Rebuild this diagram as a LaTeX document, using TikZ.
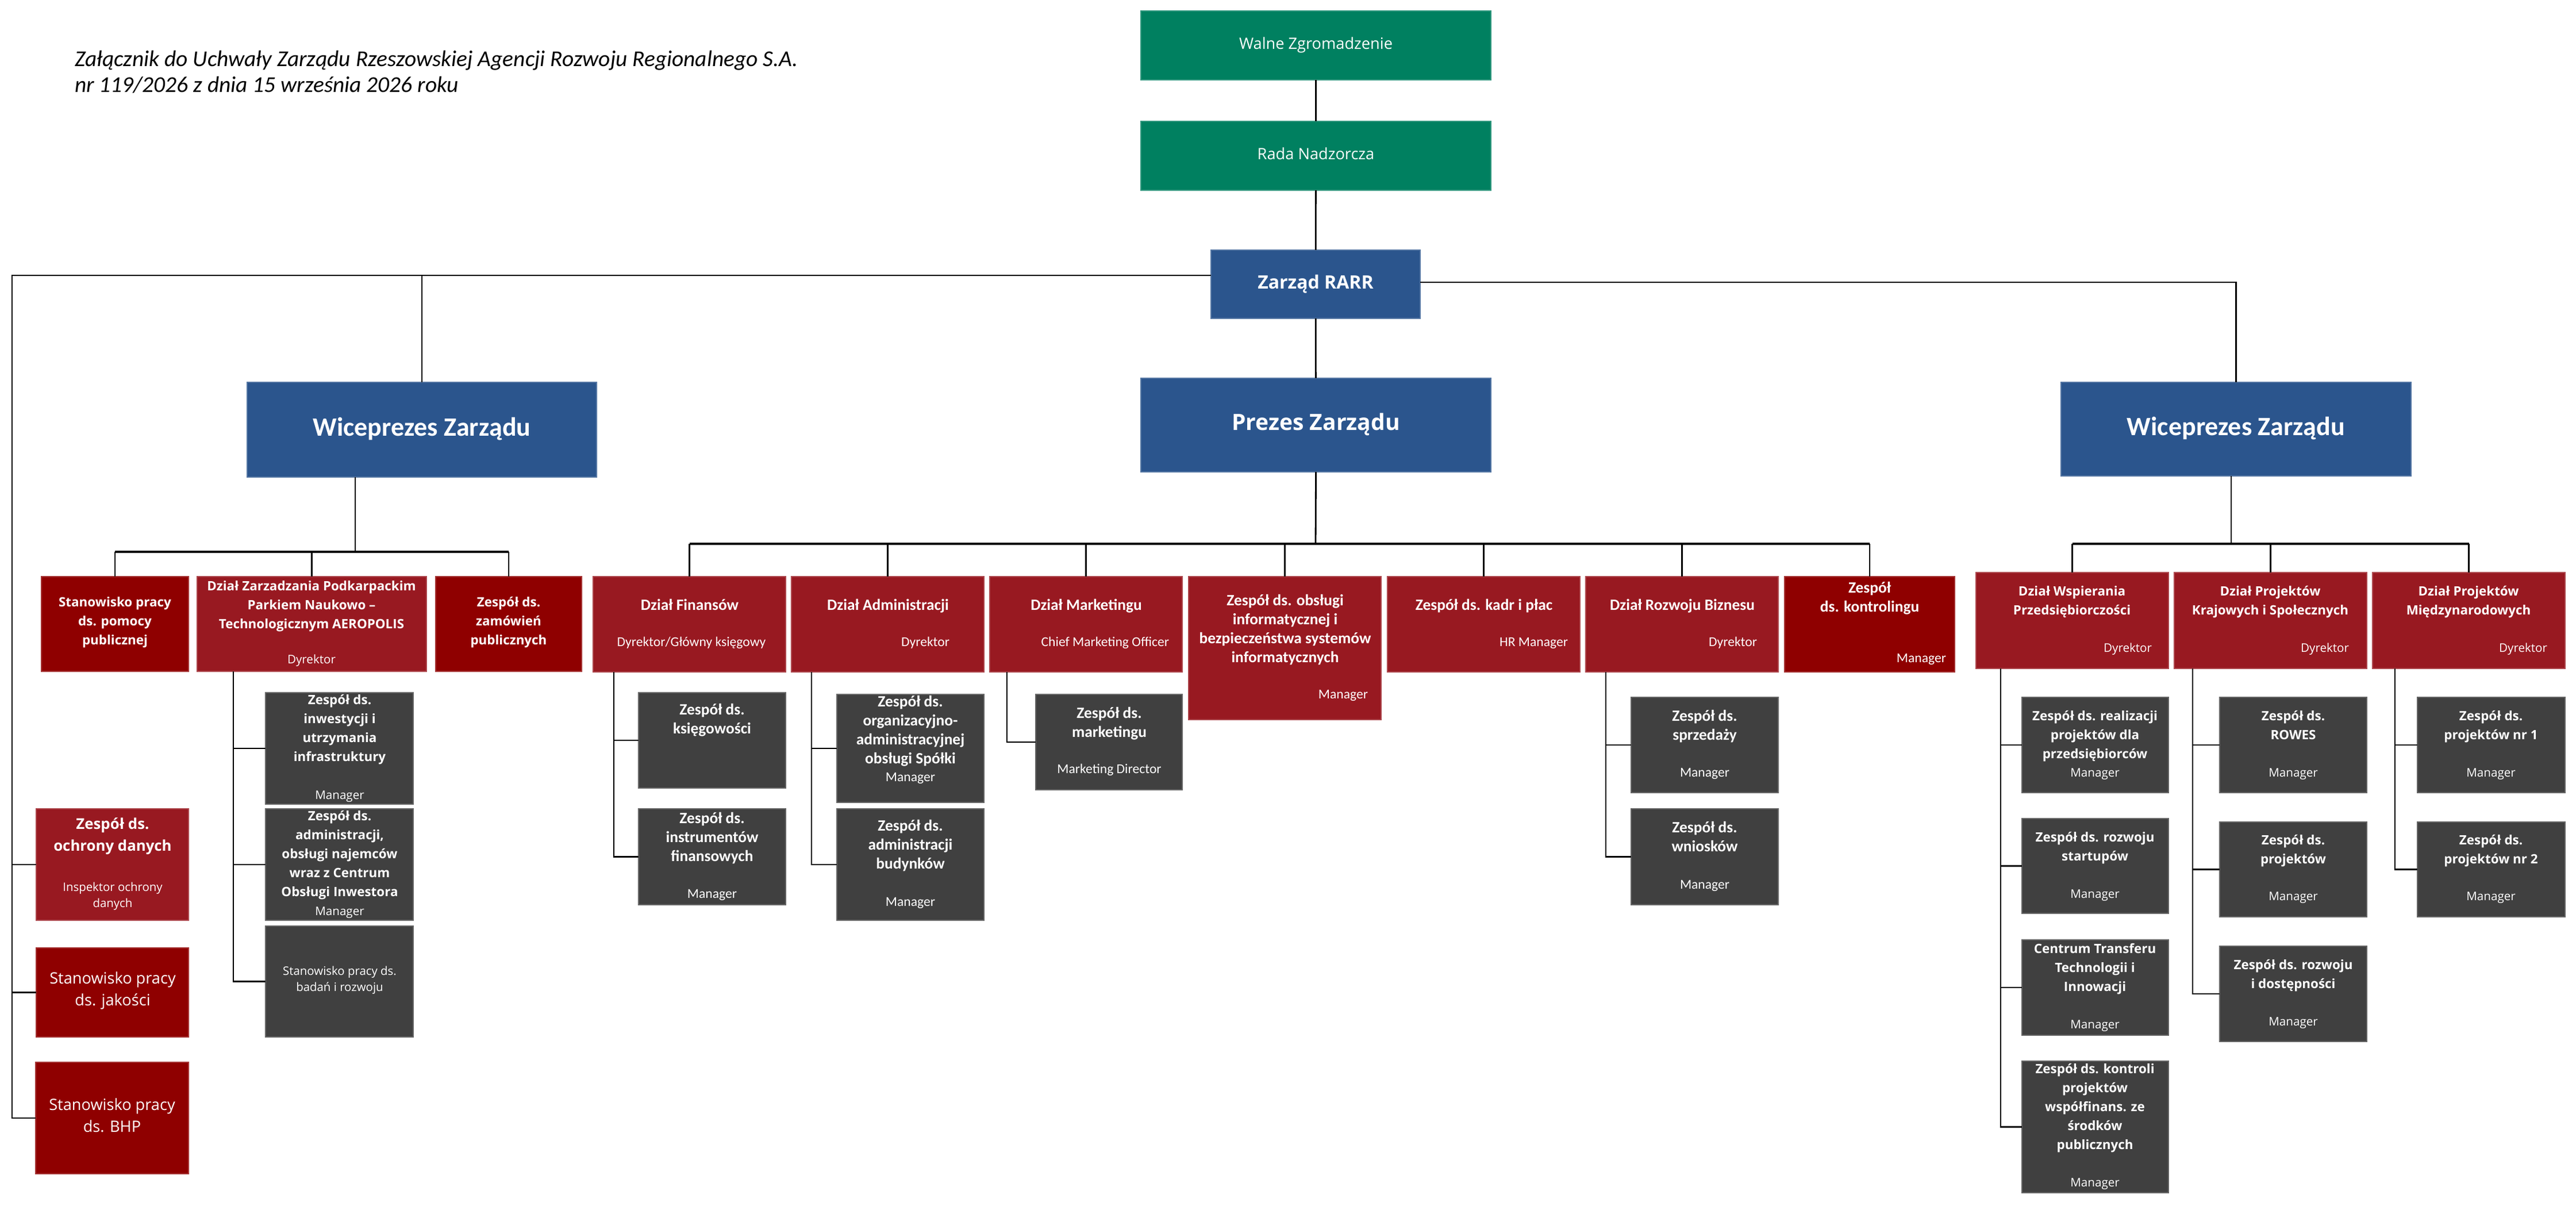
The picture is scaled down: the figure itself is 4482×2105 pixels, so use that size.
\documentclass[tikz,border=0pt]{standalone}
\usepackage{fontspec}
\newfontfamily\osans{Open Sans}
\newfontfamily\calib{Carlito}
\definecolor{cgreen}{RGB}{0,128,96}
\definecolor{cblue}{RGB}{43,85,141}
\definecolor{cred}{RGB}{152,25,33}
\definecolor{cdred}{RGB}{143,0,0}
\definecolor{cgrey}{RGB}{64,64,64}
\tikzset{
  orgbox/.style={inner sep=0pt, outer sep=0pt, line width=0.4pt},
  lbl/.style={inner sep=0pt, outer sep=0pt, text=white, align=center,
    execute at begin node=\strut, execute at end node=\strut},
  fTop/.style={lbl, font=\osans\fontsize{6.8}{8.2}\selectfont},
  fZar/.style={lbl, font=\osans\bfseries\fontsize{8}{9.6}\selectfont},
  fPre/.style={lbl, font=\osans\bfseries\fontsize{9.75}{11.7}\selectfont},
  fWice/.style={lbl, font=\calib\bfseries\fontsize{11.5}{14}\selectfont},
  fOB/.style={lbl, font=\osans\bfseries\fontsize{5.6}{8.25}\selectfont},
  fOR/.style={lbl, font=\osans\fontsize{5.15}{7}\selectfont},
  fOBig/.style={lbl, font=\osans\bfseries\fontsize{6.45}{9.5}\selectfont},
  fORBig/.style={lbl, font=\osans\fontsize{6.8}{9.5}\selectfont},
  fOSm/.style={lbl, font=\osans\fontsize{5.1}{7.2}\selectfont},
  fCB/.style={lbl, font=\calib\bfseries\fontsize{6.85}{8.25}\selectfont},
  fCR/.style={lbl, font=\calib\fontsize{5.9}{7}\selectfont},
  titletxt/.style={inner sep=0pt, outer sep=0pt, anchor=base west, text=black,
    font=\calib\itshape\fontsize{9.85}{11.5}\selectfont},
  orgconn/.style={line width=0.7pt, black},
  orgbar/.style={line width=1.1pt, black},
}
\newcommand\OBox[6]{\node[orgbox, fill=#6, draw=#6!80!white,
  minimum width={(#4-#2)*0.25pt}, minimum height={(#5-#3)*0.25pt}]
  (#1) at ({(#2+#4)/2},{(#3+#5)/2}) {};}
\begin{document}
\begin{tikzpicture}[x=0.25pt, y=-0.25pt]
\useasboundingbox (0,0) rectangle (4482,2105);
% title
\node[titletxt] (t1) at (130,116) {Załącznik do Uchwały Zarządu Rzeszowskiej Agencji Rozwoju Regionalnego S.A.};
\node[titletxt] (t2) at (130,161) {nr 119/2026 z dnia 15 września 2026 roku};
% boxes
\OBox{walne}{1985}{19}{2594}{139}{cgreen}
\OBox{rada}{1985}{211}{2594}{331}{cgreen}
\OBox{zarzad}{2107}{435}{2471}{554}{cblue}
\OBox{prezes}{1985}{658}{2594}{821}{cblue}
\OBox{wl}{430}{665}{1038}{830}{cblue}
\OBox{wr}{3586}{665}{4195}{828}{cblue}
\OBox{pomoc}{72}{1003}{328}{1168}{cdred}
\OBox{aero}{343}{1003}{742}{1168}{cred}
\OBox{zam}{758}{1003}{1012}{1168}{cdred}
\OBox{ac1}{462}{1205}{719}{1399}{cgrey}
\OBox{ac2}{462}{1407}{719}{1601}{cgrey}
\OBox{ac3}{462}{1611}{719}{1804}{cgrey}
\OBox{ochr}{63}{1407}{328}{1601}{cred}
\OBox{jak}{63}{1649}{328}{1804}{cdred}
\OBox{bhp}{62}{1848}{328}{2042}{cdred}
\OBox{fin}{1032}{1003}{1367}{1169}{cred}
\OBox{adm}{1377}{1003}{1712}{1169}{cred}
\OBox{mkt}{1722}{1003}{2057}{1169}{cred}
\OBox{itb}{2068}{1003}{2403}{1252}{cred}
\OBox{kadr}{2414}{1003}{2749}{1169}{cred}
\OBox{roz}{2759}{1003}{3094}{1169}{cred}
\OBox{kontr}{3105}{1003}{3401}{1169}{cdred}
\OBox{ksg}{1111}{1205}{1367}{1371}{cgrey}
\OBox{ins}{1111}{1407}{1367}{1574}{cgrey}
\OBox{org}{1456}{1208}{1712}{1396}{cgrey}
\OBox{bud}{1456}{1407}{1712}{1601}{cgrey}
\OBox{mar}{1802}{1208}{2057}{1374}{cgrey}
\OBox{spr}{2838}{1213}{3094}{1379}{cgrey}
\OBox{wni}{2838}{1407}{3094}{1574}{cgrey}
\OBox{wsp}{3438}{996}{3773}{1163}{cred}
\OBox{kraj}{3783}{996}{4118}{1163}{cred}
\OBox{mdz}{4128}{996}{4463}{1163}{cred}
\OBox{w1}{3518}{1213}{3773}{1379}{cgrey}
\OBox{w2}{3518}{1424}{3773}{1589}{cgrey}
\OBox{w3}{3518}{1635}{3773}{1801}{cgrey}
\OBox{w4}{3518}{1846}{3773}{2075}{cgrey}
\OBox{k1}{3862}{1213}{4118}{1379}{cgrey}
\OBox{k2}{3862}{1430}{4118}{1595}{cgrey}
\OBox{k3}{3862}{1646}{4118}{1812}{cgrey}
\OBox{m1}{4206}{1213}{4463}{1379}{cgrey}
\OBox{m2}{4206}{1430}{4463}{1595}{cgrey}
% connectors top
\draw[orgconn] (walne) -- (rada);
\draw[orgconn] (rada) -- (zarzad);
\draw[orgconn] (zarzad) -- (prezes);
\coordinate (zl) at (21,479);
\draw[orgconn] (zarzad.west |- zl) -- (zl) |- (bhp.west);
\draw[orgconn] (zl -| wl.north) -- (wl.north);
\draw[orgconn] (zl |- ochr.west) -- (ochr.west);
\draw[orgconn] (zl |- jak.west) -- (jak.west);
\coordinate (zr) at (3885,491);
\draw[orgconn] (zarzad.east |- zr) -- (zr -| wr.north) -- (wr.north);
% left vice
\coordinate (bl) at (618,960);
\draw[orgconn] (wl.south -| bl) -- (bl);
\draw[orgbar] (pomoc.north |- bl) -- (zam.north |- bl);
\foreach \n in {pomoc,aero,zam} \draw[orgconn] (\n.north |- bl) -- (\n.north);
% president
\coordinate (bp) at (2289,946);
\draw[orgconn] (prezes.south) -- (bp);
\draw[orgbar] (fin.north |- bp) -- (kontr.north |- bp);
\foreach \n in {fin,adm,mkt,itb,kadr,roz,kontr} \draw[orgconn] (\n.north |- bp) -- (\n.north);
% right vice
\coordinate (br) at (3882,946);
\draw[orgconn] (wr.south -| br) -- (br);
\draw[orgbar] (wsp.north |- br) -- (mdz.north |- br);
\foreach \n in {wsp,kraj,mdz} \draw[orgconn] (\n.north |- br) -- (\n.north);
% child connectors
\coordinate (av) at (406,1168);
\draw[orgconn] (aero.south -| av) |- (ac3.west);
\draw[orgconn] (av |- ac1.west) -- (ac1.west);
\draw[orgconn] (av |- ac2.west) -- (ac2.west);
\coordinate (fv) at (1068,1169);
\draw[orgconn] (fin.south -| fv) |- (ins.west);
\draw[orgconn] (fv |- ksg.west) -- (ksg.west);
\coordinate (dv) at (1412,1169);
\draw[orgconn] (adm.south -| dv) |- (bud.west);
\draw[orgconn] (dv |- org.west) -- (org.west);
\coordinate (mv) at (1752,1169);
\draw[orgconn] (mkt.south -| mv) |- (mar.west);
\coordinate (rv) at (2794,1169);
\draw[orgconn] (roz.south -| rv) |- (wni.west);
\draw[orgconn] (rv |- spr.west) -- (spr.west);
\coordinate (wv) at (3481,1163);
\draw[orgconn] (wsp.south -| wv) |- (w4.west);
\foreach \n in {w1,w2,w3} \draw[orgconn] (wv |- \n.west) -- (\n.west);
\coordinate (kv) at (3815,1163);
\draw[orgconn] (kraj.south -| kv) |- (k3.west);
\foreach \n in {k1,k2} \draw[orgconn] (kv |- \n.west) -- (\n.west);
\coordinate (nv) at (4167,1163);
\draw[orgconn] (mdz.south -| nv) |- (m2.west);
\draw[orgconn] (nv |- m1.west) -- (m1.west);
% texts top
\node[fTop] (walne-t) at (walne) {Walne Zgromadzenie};
\node[fTop] (rada-t) at (rada) {Rada Nadzorcza};
\node[fZar] (zarzad-t) at (zarzad) {Zarząd RARR};
\node[fPre] (prezes-t) at (prezes) {Prezes Zarządu};
\node[fWice] (wl-t) at (wl) {Wiceprezes Zarządu};
\node[fWice] (wr-t) at (wr) {Wiceprezes Zarządu};
% left texts
\node[fOB] (pomoc-t) at (200,1085) {Stanowisko pracy\\ds. pomocy\\publicznej};
\node[fOB] (aero-t) at (542,1057) {Dział Zarzadzania Podkarpackim\\Parkiem Naukowo –\\Technologicznym AEROPOLIS};
\node[fOR] (aero-s) at (542,1149) {Dyrektor};
\node[fOB] (zam-t) at (885,1085) {Zespół ds.\\zamówień\\publicznych};
\node[fOB] (ac1-t) at (591,1271) {Zespół ds.\\inwestycji i\\utrzymania\\infrastruktury};
\node[fOR] (ac1-s) at (591,1385) {Manager};
\node[fOB] (ac2-t) at (591,1490) {Zespół ds.\\administracji,\\obsługi najemców\\wraz z Centrum\\Obsługi Inwestora};
\node[fOR] (ac2-s) at (591,1587) {Manager};
\node[fOSm] (ac3-t) at (591,1707) {Stanowisko pracy ds.\\badań i rozwoju};
\node[fOBig] (ochr-t) at (196,1457) {Zespół ds.\\ochrony danych};
\node[fOSm] (ochr-s) at (196,1561) {Inspektor ochrony\\danych};
\node[fORBig] (jak-t) at (196,1726) {Stanowisko pracy\\ds. jakości};
\node[fORBig] (bhp-t) at (195,1946) {Stanowisko pracy\\ds. BHP};
% middle texts
\node[fCB] (fin-t) at (1200,1055) {Dział Finansów};
\node[fCR] (fin-s) at (1203,1119) {Dyrektor/Główny księgowy};
\node[fCB] (adm-t) at (1545,1055) {Dział Administracji};
\node[fCR, anchor=east] (adm-s) at (1652,1119) {Dyrektor};
\node[fCB] (mkt-t) at (1890,1055) {Dział Marketingu};
\node[fCR, anchor=east] (mkt-s) at (2034,1119) {Chief Marketing Officer};
\node[fCB] (itb-t) at (2236,1098) {Zespół ds. obsługi\\informatycznej i\\bezpieczeństwa systemów\\informatycznych};
\node[fCR, anchor=east] (itb-s) at (2380,1210) {Manager};
\node[fCB] (kadr-t) at (2582,1055) {Zespół ds. kadr i płac};
\node[fCR, anchor=east] (kadr-s) at (2728,1119) {HR Manager};
\node[fCB] (roz-t) at (2927,1055) {Dział Rozwoju Biznesu};
\node[fCR, anchor=east] (roz-s) at (3057,1119) {Dyrektor};
\node[fCB] (kontr-t) at (3253,1043) {Zespół\\ds. kontrolingu};
\node[fCR, anchor=east] (kontr-s) at (3386,1147) {Manager};
\node[fCB] (ksg-t) at (1239,1255) {Zespół ds.\\księgowości};
\node[fCB] (ins-t) at (1239,1461) {Zespół ds.\\instrumentów\\finansowych};
\node[fCR] (ins-s) at (1239,1557) {Manager};
\node[fCB] (org-t) at (1584,1274) {Zespół ds.\\organizacyjno-\\administracyjnej\\obsługi Spółki};
\node[fCR] (org-s) at (1584,1354) {Manager};
\node[fCB] (bud-t) at (1584,1474) {Zespół ds.\\administracji\\budynków};
\node[fCR] (bud-s) at (1584,1571) {Manager};
\node[fCB] (mar-t) at (1930,1261) {Zespół ds.\\marketingu};
\node[fCR] (mar-s) at (1930,1340) {Marketing Director};
\node[fCB] (spr-t) at (2966,1266) {Zespół ds.\\sprzedaży};
\node[fCR] (spr-s) at (2966,1346) {Manager};
\node[fCB] (wni-t) at (2966,1460) {Zespół ds.\\wniosków};
\node[fCR] (wni-s) at (2966,1541) {Manager};
% right texts
\node[fOB] (wsp-t) at (3605,1049) {Dział Wspierania\\Przedsiębiorczości};
\node[fOR, anchor=east] (wsp-s) at (3744,1129) {Dyrektor};
\node[fOB] (kraj-t) at (3950,1049) {Dział Projektów\\Krajowych i Społecznych};
\node[fOR, anchor=east] (kraj-s) at (4087,1129) {Dyrektor};
\node[fOB] (mdz-t) at (4295,1049) {Dział Projektów\\Międzynarodowych};
\node[fOR, anchor=east] (mdz-s) at (4432,1129) {Dyrektor};
\node[fOB] (w1-t) at (3645,1283) {Zespół ds. realizacji\\projektów dla\\przedsiębiorców};
\node[fOR] (w1-s) at (3645,1346) {Manager};
\node[fOB] (w2-t) at (3645,1477) {Zespół ds. rozwoju\\startupów};
\node[fOR] (w2-s) at (3645,1557) {Manager};
\node[fOB] (w3-t) at (3645,1688) {Centrum Transferu\\Technologii i\\Innowacji};
\node[fOR] (w3-s) at (3645,1784) {Manager};
\node[fOB] (w4-t) at (3645,1930) {Zespół ds. kontroli\\projektów\\współfinans. ze\\środków\\publicznych};
\node[fOR] (w4-s) at (3645,2059) {Manager};
\node[fOB] (k1-t) at (3990,1266) {Zespół ds.\\ROWES};
\node[fOR] (k1-s) at (3990,1346) {Manager};
\node[fOB] (k2-t) at (3990,1482) {Zespół ds.\\projektów};
\node[fOR] (k2-s) at (3990,1561) {Manager};
\node[fOB] (k3-t) at (3990,1699) {Zespół ds. rozwoju\\i dostępności};
\node[fOR] (k3-s) at (3990,1779) {Manager};
\node[fOB] (m1-t) at (4334,1266) {Zespół ds.\\projektów nr 1};
\node[fOR] (m1-s) at (4334,1346) {Manager};
\node[fOB] (m2-t) at (4334,1482) {Zespół ds.\\projektów nr 2};
\node[fOR] (m2-s) at (4334,1561) {Manager};
\end{tikzpicture}
\end{document}
